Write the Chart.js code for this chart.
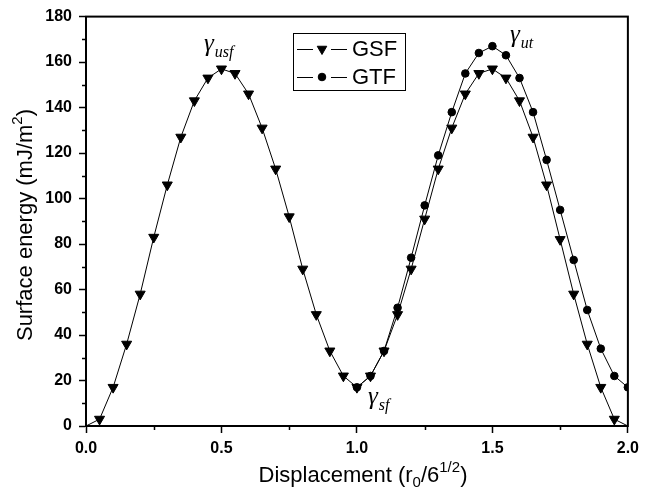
<!DOCTYPE html>
<html>
<head>
<meta charset="utf-8">
<script src="https://cdn.jsdelivr.net/npm/chart.js@4.4.0/dist/chart.umd.min.js"></script>
<style>
html, body { margin: 0; padding: 0; background: #fff; }
#wrap { width: 645px; height: 489px; position: relative; }
</style>
</head>
<body>
<div id="wrap"><canvas id="chart"></canvas></div>
<script>
// Displacement in units of r0/6^1/2, energies in mJ/m^2
var gsfX = [0, 0.05, 0.1, 0.15, 0.2, 0.25, 0.3, 0.35, 0.4, 0.45, 0.5, 0.55, 0.6, 0.65, 0.7, 0.75, 0.8, 0.85, 0.9, 0.95,
            1.0, 1.05, 1.1, 1.15, 1.2, 1.25, 1.3, 1.35, 1.4, 1.45, 1.5, 1.55, 1.6, 1.65, 1.7, 1.75, 1.8, 1.85, 1.9, 1.95, 2.0];
var gsfY = [0, 3, 17, 36, 58, 83, 106, 127, 143, 153, 157, 155, 146, 131, 113, 92, 69, 49, 33, 22,
            17, 22, 33, 49, 69, 91, 113, 131, 146, 155, 157, 153, 143, 127, 106, 82, 58, 36, 17, 3, 0];
var gtfX = [1.0, 1.05, 1.1, 1.15, 1.2, 1.25, 1.3, 1.35, 1.4, 1.45, 1.5, 1.55, 1.6, 1.65, 1.7, 1.75, 1.8, 1.85, 1.9, 1.95, 2.0];
var gtfY = [17, 22, 33, 52, 74, 97, 119, 138, 155, 164, 167, 163, 153, 138, 117, 95, 73, 51, 34, 22, 17];

var xTicks = [0, 0.5, 1.0, 1.5, 2.0];
var xMinor = [0.25, 0.75, 1.25, 1.75];
var yMinor = [10, 30, 50, 70, 90, 110, 130, 150, 170];

function toPoints(xs, ys) {
    return xs.map(function (x, i) { return { x: x, y: ys[i] }; });
}

// draw a run of text pieces (for sub/superscripts) starting at x on baseline y
function drawParts(ctx, parts, x, y, measureOnly) {
    var w = 0;
    parts.forEach(function (p) {
        ctx.font = p.font;
        if (!measureOnly) ctx.fillText(p.t, x + w, y + (p.dy || 0));
        w += ctx.measureText(p.t).width;
    });
    return w;
}

var sans = '"Liberation Sans", Arial, sans-serif';
var serif = '"Liberation Serif", "Times New Roman", serif';

var extras = {
    id: 'extras',
    afterDraw: function (chart) {
        var ctx = chart.ctx;
        var a = chart.chartArea;
        var xs = chart.scales.x, ys = chart.scales.y;
        ctx.save();
        ctx.strokeStyle = '#000';
        ctx.fillStyle = '#000';

        // frame
        ctx.lineWidth = 2;
        ctx.strokeRect(a.left, a.top, a.right - a.left, a.bottom - a.top);

        // minor ticks
        ctx.lineWidth = 1.5;
        ctx.beginPath();
        xMinor.forEach(function (v) {
            var px = Math.round(xs.getPixelForValue(v)) + 0.5;
            ctx.moveTo(px, a.bottom); ctx.lineTo(px, a.bottom + 4);
        });
        yMinor.forEach(function (v) {
            var py = Math.round(ys.getPixelForValue(v)) + 0.5;
            ctx.moveTo(a.left, py); ctx.lineTo(a.left - 4, py);
        });
        ctx.stroke();

        // axis titles
        ctx.textBaseline = 'alphabetic';
        ctx.textAlign = 'left';
        var big = '22px ' + sans, small = '15px ' + sans;
        var xt = [
            { t: 'Displacement (r', font: big },
            { t: '0', font: small, dy: 5 },
            { t: '/6', font: big },
            { t: '1/2', font: small, dy: -10 },
            { t: ')', font: big }
        ];
        var wx = drawParts(ctx, xt, 0, 0, true);
        drawParts(ctx, xt, 363 - wx / 2, 482);

        var yt = [
            { t: 'Surface energy (mJ/m', font: big },
            { t: '2', font: small, dy: -10 },
            { t: ')', font: big }
        ];
        ctx.save();
        ctx.translate(32, 225);
        ctx.rotate(-Math.PI / 2);
        var wy = drawParts(ctx, yt, 0, 0, true);
        drawParts(ctx, yt, -wy / 2, 0);
        ctx.restore();

        // gamma labels
        function gamma(sub, x, y) {
            ctx.font = 'italic 25px ' + serif;
            ctx.fillText('\u03b3', x, y);
            var w = ctx.measureText('\u03b3').width;
            ctx.font = 'italic 16px ' + serif;
            ctx.fillText(sub, x + w + 1, y + 6);
        }
        gamma('usf', 204, 51);
        gamma('ut', 510, 42);
        gamma('sf', 368, 404);

        // legend
        ctx.lineWidth = 1;
        ctx.strokeRect(293.5, 33.5, 112, 57);
        var rows = [
            { y: 49, label: 'GSF', style: 'triangle', rot: 180, r: 5.5 },
            { y: 77, label: 'GTF', style: 'circle', rot: 0, r: 3.8 }
        ];
        rows.forEach(function (row) {
            ctx.beginPath();
            ctx.moveTo(297, row.y + 0.5); ctx.lineTo(313, row.y + 0.5);
            ctx.moveTo(331, row.y + 0.5); ctx.lineTo(347, row.y + 0.5);
            ctx.stroke();
            Chart.helpers.drawPoint(ctx, { pointStyle: row.style, rotation: row.rot, radius: row.r, borderWidth: 1 }, 322, row.y);
            ctx.font = '22px ' + sans;
            ctx.textBaseline = 'middle';
            ctx.fillText(row.label, 352, row.y + 1);
        });
        ctx.restore();
    }
};

new Chart(document.getElementById('chart'), {
    type: 'scatter',
    data: {
        datasets: [{
            label: 'GSF',
            data: toPoints(gsfX, gsfY),
            showLine: true,
            borderColor: '#000',
            backgroundColor: '#000',
            borderWidth: 1,
            pointStyle: 'triangle',
            pointRotation: 180,
            pointRadius: function (c) { var x = c.raw && c.raw.x; return (x === 0 || x === 2) ? 0 : 5.8; },
            pointBorderWidth: 1
        }, {
            label: 'GTF',
            data: toPoints(gtfX, gtfY),
            showLine: true,
            borderColor: '#000',
            backgroundColor: '#000',
            borderWidth: 1,
            pointStyle: 'circle',
            pointRadius: 3.8,
            pointBorderWidth: 1
        }]
    },
    options: {
        responsive: true,
        maintainAspectRatio: false,
        animation: false,
        layout: { padding: { top: 16, right: 13, left: 0, bottom: 0 } },
        plugins: {
            legend: { display: false },
            tooltip: { enabled: false }
        },
        scales: {
            x: {
                type: 'linear',
                min: 0,
                max: 2,
                afterBuildTicks: function (s) { s.ticks = xTicks.map(function (v) { return { value: v }; }); },
                afterFit: function (s) { s.height = 63; },
                ticks: {
                    callback: function (v) { return Number(v).toFixed(1); },
                    color: '#000',
                    font: { family: sans, size: 16, weight: 'bold' },
                    padding: 6,
                    maxRotation: 0,
                    autoSkip: false
                },
                grid: { drawOnChartArea: false, tickLength: 7, tickColor: '#000', tickWidth: 1.5 },
                border: { color: '#000', width: 2 }
            },
            y: {
                min: 0,
                max: 180,
                afterFit: function (s) { s.width = 86; },
                ticks: {
                    stepSize: 20,
                    color: '#000',
                    font: { family: sans, size: 16, weight: 'bold' },
                    padding: 7
                },
                grid: { drawOnChartArea: false, tickLength: 7, tickColor: '#000', tickWidth: 1.5 },
                border: { color: '#000', width: 2 }
            }
        }
    },
    plugins: [extras]
});
</script>
</body>
</html>
